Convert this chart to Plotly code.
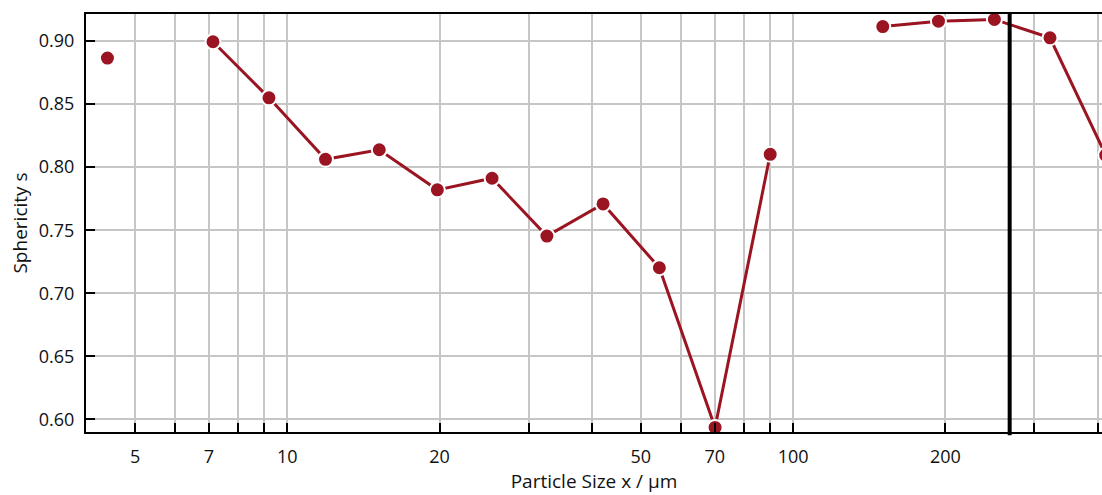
import numpy as np
import plotly.graph_objects as go

# Particle size classes (µm) and measured sphericity; None marks empty classes
size_um = [4.41, 5.7, 7.13, 9.2, 11.9, 15.2, 19.8, 25.4, 32.6, 42.1, 54.4, 70.1, 90.1,
           116, 150.4, 193.8, 250, 322, 415]
sphericity = [0.8865, None, 0.8995, 0.8550, 0.8062, 0.8138, 0.7820, 0.7912, 0.7453,
              0.7708, 0.7202, 0.5935, 0.8102, None, 0.9115, 0.9158, 0.9172, 0.9026, 0.8095]

grid_vals = [4, 5, 6, 7, 8, 9, 10, 20, 30, 40, 50, 60, 70, 80, 90, 100, 200, 300, 400]
labelled = {5, 7, 10, 20, 50, 70, 100, 200}
grid_text = [str(v) if v in labelled else "" for v in grid_vals]

y_ticks = [0.60, 0.65, 0.70, 0.75, 0.80, 0.85, 0.90]
size_limit = 268  # vertical reference line (µm)

red = "#9b1422"

fig = go.Figure()
fig.add_trace(go.Scatter(
    x=size_um, y=sphericity, mode="lines+markers", connectgaps=False,
    line=dict(color=red, width=3),
    marker=dict(color=red, size=15, line=dict(color="white", width=2)),
    showlegend=False,
))

fig.add_shape(type="line", xref="x", yref="paper",
              x0=size_limit, x1=size_limit, y0=-0.008, y1=1,
              line=dict(color="black", width=4), layer="above")

font_family = "Open Sans, Noto Sans, sans-serif"
fig.update_layout(
    width=1102, height=495,
    margin=dict(l=86, r=0, t=14, b=63),
    paper_bgcolor="white", plot_bgcolor="white",
    font=dict(family=font_family, size=18, color="#111111"),
    xaxis=dict(
        type="log", range=[np.log10(4), np.log10(408)],
        tickmode="array", tickvals=grid_vals, ticktext=grid_text,
        ticks="inside", ticklen=9, tickwidth=1.5, tickcolor="black",
        showgrid=True, gridcolor="#c6c6c6", gridwidth=1.5,
        showline=True, linecolor="black", linewidth=2, mirror=True,
        zeroline=False, ticklabelstandoff=7,
        tickfont=dict(size=18),
        title=dict(text="Particle Size x / µm", standoff=6, font=dict(size=19)),
    ),
    yaxis=dict(
        range=[0.5899, 0.9215],
        tickmode="array", tickvals=y_ticks, ticktext=[f"{v:.2f}" for v in y_ticks],
        ticks="inside", ticklen=9, tickwidth=1.5, tickcolor="black",
        showgrid=True, gridcolor="#c6c6c6", gridwidth=1.5,
        showline=True, linecolor="black", linewidth=2, mirror=False,
        zeroline=False, ticklabelstandoff=6,
        tickfont=dict(size=18),
        title=dict(text="Sphericity s", standoff=6, font=dict(size=19)),
    ),
)

fig.write_html("out.html")
